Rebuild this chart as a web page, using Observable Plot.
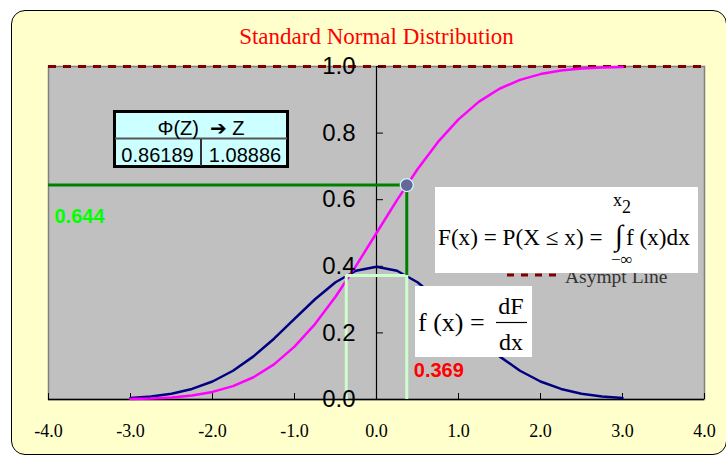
<!DOCTYPE html>
<html>
<head>
<meta charset="utf-8">
<script src="https://cdn.jsdelivr.net/npm/d3@7"></script>
<script src="https://cdn.jsdelivr.net/npm/@observablehq/plot@0.6"></script>
<style>
  html, body { margin: 0; padding: 0; background: white; }
  #wrap { position: relative; width: 726px; height: 459px; overflow: hidden; }
  #bg { position: absolute; left: 11px; top: 10px; width: 716px; height: 445px;
        background: #FFFFCC; border: 1.5px solid black; border-radius: 14px; box-sizing: border-box; }
  #chart { position: absolute; left: 0; top: 0; }
</style>
</head>
<body>
<div id="wrap"><div id="bg"></div><div id="chart"></div></div>
<script>
// ---- data ----
const title = "Standard Normal Distribution";
const xs = [-3, -2.75, -2.5, -2.25, -2, -1.75, -1.5, -1.25, -1, -0.75, -0.5, -0.25, 0,
            0.25, 0.5, 0.75, 1, 1.25, 1.5, 1.75, 2, 2.25, 2.5, 2.75, 3];
const pdfValues = [0.0044, 0.0091, 0.0175, 0.0317, 0.0540, 0.0863, 0.1295, 0.1826, 0.2420, 0.3011, 0.3521, 0.3867, 0.3989,
                   0.3867, 0.3521, 0.3011, 0.2420, 0.1826, 0.1295, 0.0863, 0.0540, 0.0317, 0.0175, 0.0091, 0.0044];
const cdfValues = [0.0013, 0.0030, 0.0062, 0.0122, 0.0228, 0.0401, 0.0668, 0.1056, 0.1587, 0.2266, 0.3085, 0.4013, 0.5,
                   0.5987, 0.6915, 0.7734, 0.8413, 0.8944, 0.9332, 0.9599, 0.9772, 0.9878, 0.9938, 0.9970, 0.9987];
const zValue = 0.369;
const phiValue = 0.644;
const pdfAtZ = 0.3725;
const asymptote = 1.0;
const xTicks = [-4, -3, -2, -1, 0, 1, 2, 3, 4];
const xTickLabels = ["-4.0", "-3.0", "-2.0", "-1.0", "0.0", "1.0", "2.0", "3.0", "4.0"];
const yTicks = [0, 0.2, 0.4, 0.6, 0.8, 1.0];
const yTickLabels = ["0.0", "0.2", "0.4", "0.6", "0.8", "1.0"];
const tableHeader = "\u03A6(Z)  \u2794 Z";
const tableValues = ["0.86189", "1.08886"];
const legendLabel = "Asympt Line";

const pdfData = xs.map((x, i) => ({x, y: pdfValues[i]}));
const cdfData = xs.map((x, i) => ({x, y: cdfValues[i]}));
const xTickData = xTicks.map((x, i) => ({x, label: xTickLabels[i]}));
const yTickData = yTicks.map((y, i) => ({y, label: yTickLabels[i]}));

const sans = "'Liberation Sans', Arial, sans-serif";
const serif = "'Liberation Serif', 'Times New Roman', serif";

const plot = Plot.plot({
  width: 726, height: 459,
  marginLeft: 48, marginRight: 22, marginTop: 66, marginBottom: 60,
  x: {domain: [-4, 4], axis: null},
  y: {domain: [0, 1], axis: null},
  style: {background: "none", overflow: "visible"},
  marks: [
    Plot.frame({fill: "#C0C0C0", stroke: "#808080", strokeWidth: 1.5}),
    Plot.ruleY([asymptote], {stroke: "#800000", strokeWidth: 3, strokeDasharray: "8,7"}),
    Plot.ruleX([0], {y1: 0, y2: 1, stroke: "black", strokeWidth: 1.2}),
    Plot.ruleY(yTicks, {x1: 0, x2: 0.085, stroke: "black", strokeWidth: 1}),
    Plot.ruleY([0], {stroke: "black", strokeWidth: 1.5}),
    Plot.ruleX(xTicks, {y1: 0, y2: 0.018, stroke: "black", strokeWidth: 1}),
    Plot.line(pdfData, {x: "x", y: "y", stroke: "#000080", strokeWidth: 2.5}),
    Plot.line(cdfData, {x: "x", y: "y", stroke: "#FF00FF", strokeWidth: 2.5}),
    Plot.ruleX([-zValue, zValue], {y1: 0, y2: pdfAtZ, stroke: "#CCFFCC", strokeWidth: 3}),
    Plot.ruleY([pdfAtZ], {x1: -zValue, x2: zValue, stroke: "#CCFFCC", strokeWidth: 3}),
    Plot.ruleY([phiValue], {x1: -4, x2: zValue, stroke: "#008000", strokeWidth: 3}),
    Plot.ruleX([zValue], {y1: pdfAtZ, y2: phiValue, stroke: "#008000", strokeWidth: 3}),
    Plot.dot([{x: zValue, y: phiValue}], {x: "x", y: "y", r: 6.5, fill: "#666699", stroke: "#CCFFFF", strokeWidth: 1.2}),
    Plot.text(yTickData, {x: () => 0, y: "y", text: "label", dx: -21, textAnchor: "end",
      fontSize: 24, fontFamily: sans, fill: "black"}),
    Plot.text(xTickData, {x: "x", y: () => 0, text: "label", dy: 32, fontSize: 18, fontFamily: serif, fill: "black"}),
    Plot.text([phiValue], {x: () => -4, y: d => d, text: d => d.toFixed(3), dx: 6, dy: 32, textAnchor: "start",
      fontSize: 20, fontWeight: "bold", fontFamily: sans, fill: "#00FF00"}),
    Plot.text([zValue], {x: d => d, y: () => 0, text: d => d.toFixed(3), dx: 7, dy: -29, textAnchor: "start",
      fontSize: 20, fontWeight: "bold", fontFamily: sans, fill: "#FF0000"}),
    Plot.text([title], {frameAnchor: "top", lineAnchor: "middle", dy: -30, fontSize: 23, fontFamily: serif, fill: "#FF0000"})
  ]
});
document.getElementById("chart").appendChild(plot);

// ---- annotations: table, legend, formula boxes ----
const svg = d3.select(plot);
const g = svg.append("g").attr("text-anchor", "start");

// table
g.append("rect").attr("x", 114.5).attr("y", 111.5).attr("width", 173).attr("height", 55)
  .attr("fill", "#CCFFFF").attr("stroke", "black").attr("stroke-width", 3);
g.append("line").attr("x1", 115).attr("x2", 287).attr("y1", 138.5).attr("y2", 138.5)
  .attr("stroke", "#555").attr("stroke-width", 2);
g.append("line").attr("x1", 201).attr("x2", 201).attr("y1", 139).attr("y2", 166)
  .attr("stroke", "#333").attr("stroke-width", 2);
g.append("text").attr("x", 201).attr("y", 134.5).attr("text-anchor", "middle")
  .attr("font-family", sans + ", 'DejaVu Sans'").attr("font-size", 20)
  .style("white-space", "pre").text(tableHeader);
g.append("text").attr("x", 157.5).attr("y", 161.5).attr("text-anchor", "middle")
  .attr("font-family", sans).attr("font-size", 20).text(tableValues[0]);
g.append("text").attr("x", 245).attr("y", 161.5).attr("text-anchor", "middle")
  .attr("font-family", sans).attr("font-size", 20).text(tableValues[1]);

// legend (partly hidden under formula box)
g.append("line").attr("x1", 507).attr("x2", 556).attr("y1", 275).attr("y2", 275)
  .attr("stroke", "#800000").attr("stroke-width", 3).attr("stroke-dasharray", "7,7");
g.append("text").attr("x", 565).attr("y", 283).attr("text-anchor", "start").attr("font-family", serif).attr("font-size", 19.5)
  .attr("fill", "#333").text(legendLabel);

// formula 1
g.append("rect").attr("x", 435).attr("y", 187).attr("width", 263).attr("height", 86).attr("fill", "white");
const serifF = serif + ", 'DejaVu Serif'";
function t(x, y, size, str) {
  return g.append("text").attr("x", x).attr("y", y).attr("text-anchor", "start")
    .attr("font-family", serifF).attr("font-size", size).style("white-space", "pre").text(str);
}
t(438, 245, 23.2, "F(x) = P(X \u2264 x) =");
t(615, 245, 29, "\u222B");
t(613, 206, 18, "x");
t(622, 213, 18, "2");
t(611, 265, 17, "\u2212\u221E");
t(626, 245, 23.2, "f (x)dx");

// formula 2
g.append("rect").attr("x", 415).attr("y", 286).attr("width", 117).attr("height", 71).attr("fill", "white");
t(418, 331, 26, "f (x) =");
g.append("text").attr("x", 511).attr("y", 314).attr("text-anchor", "middle").attr("font-family", serifF)
  .attr("font-size", 24).text("dF");
g.append("line").attr("x1", 496).attr("x2", 527).attr("y1", 322.5).attr("y2", 322.5)
  .attr("stroke", "black").attr("stroke-width", 1.2);
g.append("text").attr("x", 511).attr("y", 350).attr("text-anchor", "middle").attr("font-family", serifF)
  .attr("font-size", 24).text("dx");
</script>
</body>
</html>
